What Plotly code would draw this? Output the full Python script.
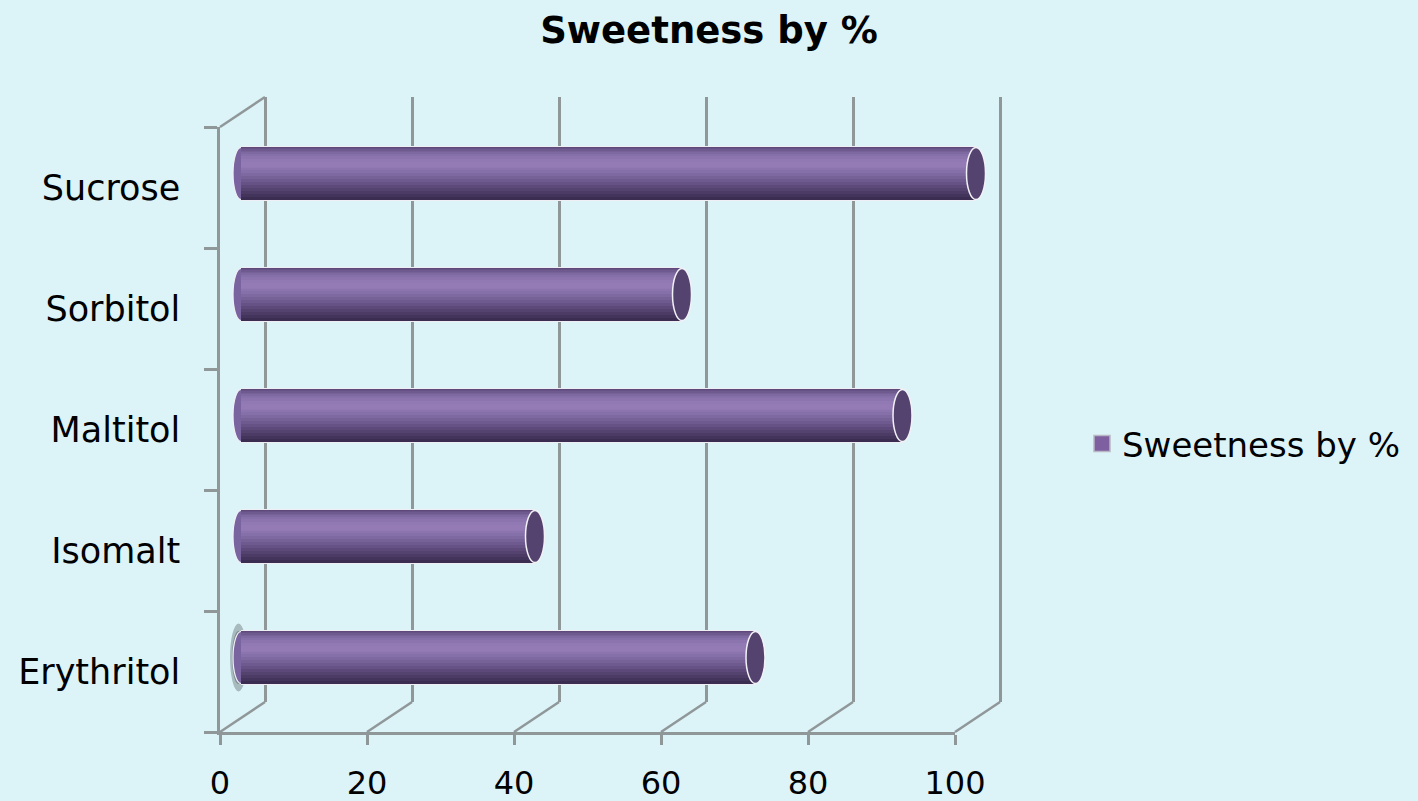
import plotly.graph_objects as go

# ---------------- data ----------------
categories = ["Erythritol", "Isomalt", "Maltitol", "Sorbitol", "Sucrose"]
sweetness = [70, 40, 90, 60, 100]
series_name = "Sweetness by %"
x_ticks = [0, 20, 40, 60, 80, 100]
chart_title = "Sweetness by %"

# ---------------- layout constants (pixels) ----------------
W, H = 1418, 801
FRONT_L, FRONT_R, FRONT_T, FRONT_B = 220, 955, 127, 732
DX, DY = 45, 30          # depth of the back wall
BAR_DX, BAR_DY = 21, 14  # depth of the cylinders
XMIN, XMAX = 0, 100
PAD = 3                  # extra units so caps are not clipped
WALL_PAD = 8             # extra units on the back wall axis (room for diagonals)
BAR_W = 0.43             # cylinder thickness in category units
FONT = "DejaVu Sans"
GRID = "#8F9799"
BG = "#DCF3F8"
LW = 2.5

ppu = (FRONT_R - FRONT_L) / (XMAX - XMIN)


def xdom(left, right):
    return [left / W, right / W]


def ydom(top, bottom):
    return [1 - bottom / H, 1 - top / H]


# gradient layers of the cylinder body: (bottom frac, top frac, colour)
layers = [
    (0.00, 1.00, "#3B2C51"),
    (0.05, 1.00, "#43345B"),
    (0.10, 1.00, "#4B3B65"),
    (0.16, 1.00, "#54426F"),
    (0.22, 1.00, "#5D4A7A"),
    (0.28, 0.99, "#665285"),
    (0.34, 0.97, "#6F5A8F"),
    (0.40, 0.94, "#776298"),
    (0.46, 0.91, "#7F69A1"),
    (0.51, 0.87, "#8670A9"),
    (0.56, 0.83, "#8C75AF"),
    (0.60, 0.78, "#9179B3"),
    (0.63, 0.72, "#947BB6"),
]

fig = go.Figure()

# invisible helpers so every axis has data
fig.add_trace(go.Scatter(x=sweetness, y=categories, mode="markers",
                         marker=dict(opacity=0), showlegend=False,
                         hoverinfo="skip", xaxis="x", yaxis="y"))
fig.add_trace(go.Scatter(x=x_ticks, y=[0.5] * len(x_ticks), mode="markers",
                         marker=dict(opacity=0), showlegend=False,
                         hoverinfo="skip", xaxis="x2", yaxis="y2"))

# white outline of the cylinders
fig.add_trace(go.Bar(x=sweetness, y=categories, orientation="h",
                     width=BAR_W + 0.02, offset=-(BAR_W + 0.02) / 2,
                     marker=dict(color="#EEEEF4", line=dict(width=0)),
                     showlegend=False, hoverinfo="skip",
                     xaxis="x3", yaxis="y3"))

for lo, hi, col in layers:
    fig.add_trace(go.Bar(x=sweetness, y=categories, orientation="h",
                         width=(hi - lo) * BAR_W,
                         offset=-BAR_W / 2 + lo * BAR_W,
                         marker=dict(color=col, line=dict(width=0)),
                         showlegend=False, hoverinfo="skip",
                         xaxis="x3", yaxis="y3"))

# legend entry
fig.add_trace(go.Scatter(x=[None], y=[None], mode="markers", name=series_name,
                         marker=dict(symbol="square", size=16, color="#7E5FA0",
                                     line=dict(color="#B8B8C4", width=1.5)),
                         xaxis="x", yaxis="y"))

shapes = []
# caps of the cylinders
for i, (cat, v) in enumerate(zip(categories, sweetness)):
    if i == 0:
        shapes.append(dict(type="circle", xref="x3", yref="y3",
                           xsizemode="pixel", xanchor=0, x0=-11, x1=6,
                           y0=i - 0.28, y1=i + 0.28, layer="below",
                           fillcolor="rgba(70,82,86,0.35)",
                           line=dict(width=0)))
        shapes.append(dict(type="circle", xref="x3", yref="y3",
                           xsizemode="pixel", xanchor=0, x0=-9, x1=4,
                           y0=i - 0.22, y1=i + 0.22, layer="below",
                           fillcolor="rgba(70,82,86,0.45)",
                           line=dict(width=0)))
    shapes.append(dict(type="circle", xref="x3", yref="y3",
                       xsizemode="pixel", xanchor=0, x0=-8, x1=8,
                       y0=i - BAR_W / 2, y1=i + BAR_W / 2, layer="below",
                       fillcolor="#7A64A0", line=dict(color="#F2F2F6", width=1.2)))
    shapes.append(dict(type="circle", xref="x3", yref="y3",
                       xsizemode="pixel", xanchor=v, x0=-9.5, x1=9.5,
                       y0=i - BAR_W / 2, y1=i + BAR_W / 2, layer="above",
                       fillcolor="#54436F", line=dict(color="#F2F2F6", width=1.5)))

# depth lines: floor diagonals to every back-wall gridline and the top-left one
y_front_bottom = 1 - FRONT_B / H
y_front_top = 1 - FRONT_T / H
for t in x_ticks:
    shapes.append(dict(type="line", xref="x2", yref="paper",
                       xsizemode="pixel", xanchor=t, x0=-DX, x1=0,
                       ysizemode="pixel", yanchor=y_front_bottom, y0=0, y1=DY,
                       line=dict(color=GRID, width=LW), layer="above"))
shapes.append(dict(type="line", xref="x2", yref="paper",
                   xsizemode="pixel", xanchor=XMIN, x0=-DX, x1=0,
                   ysizemode="pixel", yanchor=y_front_top, y0=0, y1=DY,
                   line=dict(color=GRID, width=LW), layer="above"))

fig.update_layout(
    width=W, height=H, autosize=False,
    margin=dict(l=0, r=0, t=0, b=0, pad=0, autoexpand=False),
    paper_bgcolor=BG, plot_bgcolor="rgba(0,0,0,0)",
    barmode="overlay", bargap=0,
    font=dict(family=FONT, color="#000000"),
    title=dict(text=chart_title, x=0.5, xanchor="center",
               y=1 - 30 / H, yanchor="middle",
               font=dict(family=FONT, size=37, weight="bold", color="#000000")),
    showlegend=True,
    legend=dict(x=1082 / W, xanchor="left", y=1 - 444 / H, yanchor="middle",
                bgcolor="rgba(0,0,0,0)", font=dict(family=FONT, size=34)),
    xaxis=dict(domain=xdom(FRONT_L, FRONT_R), anchor="y", automargin=False,
               range=[XMIN, XMAX], tickmode="array", tickvals=x_ticks,
               ticks="outside", ticklen=10, tickwidth=LW, tickcolor=GRID,
               showline=True, linecolor=GRID, linewidth=LW,
               showgrid=False, zeroline=False,
               tickfont=dict(family=FONT, size=32), ticklabelstandoff=11),
    yaxis=dict(domain=ydom(FRONT_T, FRONT_B), anchor="x", automargin=False,
               type="category", categoryorder="array", categoryarray=categories,
               range=[-0.5, len(categories) - 0.5],
               ticks="outside", tickson="boundaries", ticklen=13, tickwidth=LW,
               tickcolor=GRID, showline=True, linecolor=GRID, linewidth=LW,
               showgrid=False, zeroline=False,
               tickfont=dict(family=FONT, size=35), ticklabelstandoff=30),
    xaxis2=dict(domain=xdom(FRONT_L + DX - WALL_PAD * ppu,
                            FRONT_R + DX + WALL_PAD * ppu),
                anchor="y2", automargin=False,
                range=[XMIN - WALL_PAD, XMAX + WALL_PAD],
                tickmode="array", tickvals=x_ticks,
                showgrid=True, gridcolor=GRID, gridwidth=LW,
                showticklabels=False, ticks="", showline=False, zeroline=False),
    yaxis2=dict(domain=ydom(FRONT_T - DY, FRONT_B - DY), anchor="x2",
                automargin=False, range=[0, 1], visible=False),
    xaxis3=dict(domain=xdom(FRONT_L + BAR_DX - PAD * ppu,
                            FRONT_R + BAR_DX + PAD * ppu),
                anchor="y3", automargin=False,
                range=[XMIN - PAD, XMAX + PAD], visible=False),
    yaxis3=dict(domain=ydom(FRONT_T - BAR_DY, FRONT_B - BAR_DY), anchor="x3",
                automargin=False,
                type="category", categoryorder="array", categoryarray=categories,
                range=[-0.5, len(categories) - 0.5], visible=False),
    shapes=shapes,
)

fig.write_html("out.html")
